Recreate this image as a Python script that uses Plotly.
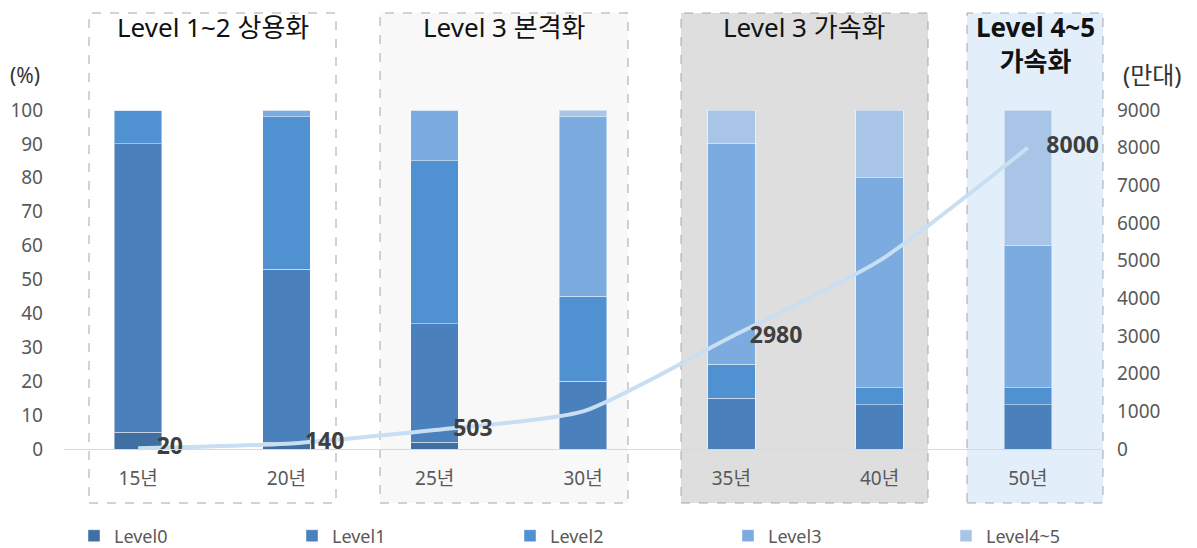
import plotly.graph_objects as go

# ---- data -------------------------------------------------------------
years = ["15년", "20년", "25년", "30년", "35년", "40년", "50년"]

level0 = [5, 2, 2, 0, 0, 0, 0]
level1 = [85, 51, 35, 20, 15, 13, 13]
level2 = [10, 45, 48, 25, 10, 5, 5]
level3 = [0, 2, 15, 53, 65, 62, 42]
level45 = [0, 0, 0, 2, 10, 20, 40]

sales = [20, 140, 503, 1000, 2980, 5000, 8000]          # 만대
sales_labeled = [True, True, True, False, True, False, True]

series_names = ["Level0", "Level1", "Level2", "Level3", "Level4~5"]
pct_ticks = list(range(0, 101, 10))
unit_ticks = list(range(0, 9001, 1000))

# ---- styling ----------------------------------------------------------
FONT = "Noto Sans, Noto Sans CJK KR"
colors = ["#3F6FA3", "#4A81BC", "#5092D1", "#7BABDF", "#A8C5E8"]
W, H = 1197, 548
ML, MR, MT, MB = 64, 95, 13, 45
PW, PH = W - ML - MR, H - MT - MB


def px(x):
    return (x - ML) / PW


def py(y):
    return (H - MB - y) / PH


fig = go.Figure()

for name, vals, col in zip(series_names, [level0, level1, level2, level3, level45], colors):
    fig.add_trace(go.Bar(
        x=years, y=vals, name=name,
        marker=dict(color=col, line=dict(color="rgba(255,255,255,0.45)", width=1)),
        hoverinfo="x+y+name",
    ))

labels = [f"{v}" if show else "" for v, show in zip(sales, sales_labeled)]
fig.add_trace(go.Scatter(
    x=years, y=sales, yaxis="y2", mode="lines+markers+text",
    line=dict(color="#C8DEF3", width=4, shape="spline", smoothing=0.6),
    marker=dict(size=28, color="rgba(0,0,0,0)"),
    text=labels, textposition="middle right",
    textfont=dict(family=FONT, size=23, color="#3F3F3F", weight="bold"),
    showlegend=False,
))

# stage panels behind the bars: (left px, right px, fill, title, bold, title centre y px)
panels = [
    (89, 336, "rgba(255,255,255,1)", "Level 1~2 상용화", False, 27),
    (380, 628, "#F8F8F8", "Level 3 본격화", False, 27),
    (681, 928, "#DEDEDE", "Level 3 가속화", False, 27),
    (967, 1103, "#E2EEF9", "Level 4~5<br>가속화", True, 44),
]
shapes = []
annotations = []
for x0, x1, fill, title, bold, ty in panels:
    shapes.append(dict(
        type="rect", xref="paper", yref="paper",
        x0=px(x0), x1=px(x1), y0=0, y1=1,
        fillcolor=fill, line=dict(color="#A6A6A6", width=1, dash="dash"),
        layer="below",
    ))
    annotations.append(dict(
        xref="paper", yref="paper", x=px((x0 + x1) / 2),
        y=py(ty), yanchor="middle", xanchor="center",
        text=title, showarrow=False,
        font=dict(family=FONT, size=26, color="#111111",
                  weight="bold" if bold else "normal"),
    ))

annotations.append(dict(xref="paper", yref="paper", x=px(25), y=py(75),
                        xanchor="center", yanchor="middle",
                        text="(%)", showarrow=False,
                        font=dict(family=FONT, size=21, color="#333333")))
annotations.append(dict(xref="paper", yref="paper", x=px(1152), y=py(75),
                        xanchor="center", yanchor="middle",
                        text="(만대)", showarrow=False,
                        font=dict(family=FONT, size=24, color="#333333")))

# y ranges: 0 at y=449 px, 100 at y=110 px
ppu = (449 - 110) / 100
y_lo = -(H - MB - 449) / ppu
y_hi = 100 + (110 - MT) / ppu

tickfont = dict(family=FONT, size=19, color="#595959")

fig.update_layout(
    width=W, height=H,
    margin=dict(l=ML, r=MR, t=MT, b=MB, autoexpand=False),
    paper_bgcolor="white", plot_bgcolor="white",
    barmode="stack", bargap=0.68,
    font=dict(family=FONT, color="#595959"),
    shapes=shapes, annotations=annotations,
    xaxis=dict(
        type="category", range=[-0.5, 6.5],
        anchor="free", position=(H - MB - 449) / PH,
        showline=True, linecolor="#D9D9D9", linewidth=1,
        ticks="", tickfont=tickfont, ticklabelstandoff=12,
        showgrid=False, zeroline=False,
    ),
    yaxis=dict(
        range=[y_lo, y_hi], tickvals=pct_ticks,
        showgrid=False, zeroline=False, showline=False,
        tickfont=tickfont, ticklabelstandoff=20,
    ),
    yaxis2=dict(
        range=[y_lo * 90, y_hi * 90], tickvals=unit_ticks,
        overlaying="y", side="right",
        showgrid=False, zeroline=False, showline=False,
        tickfont=tickfont, ticklabelstandoff=14,
    ),
    legend=dict(
        orientation="h", x=px(1164), xanchor="right",
        y=py(536), yanchor="middle",
        traceorder="normal", entrywidth=173, entrywidthmode="pixels",
        font=dict(family=FONT, size=18, color="#595959"),
        bgcolor="rgba(0,0,0,0)", borderwidth=0,
    ),
)

fig.write_html("out.html")
